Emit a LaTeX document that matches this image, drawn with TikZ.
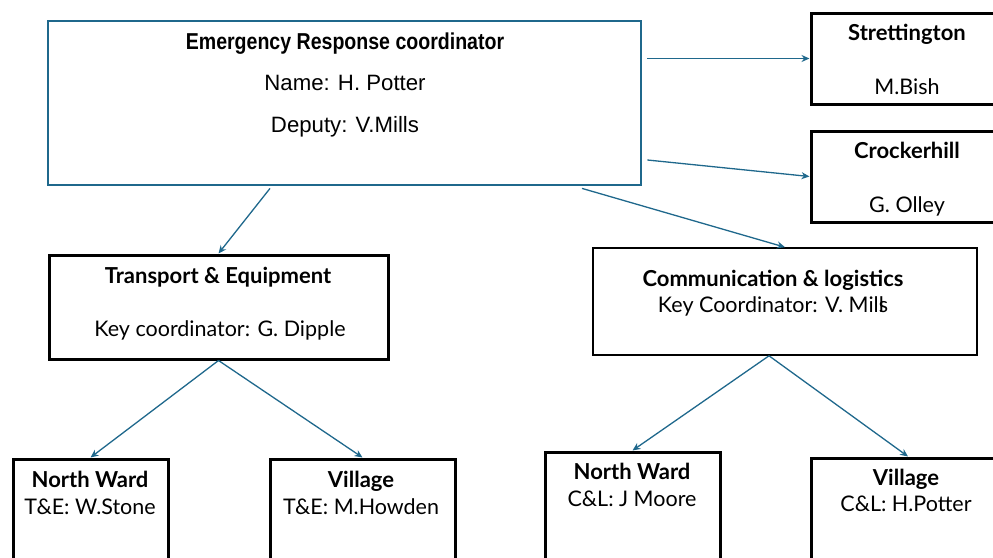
\documentclass[tikz,border=0pt]{standalone}
\usepackage{fontspec}
\setmainfont{Lato}
\newfontfamily\ercfont{Liberation Sans}
\newfontfamily\ercnarrow[FakeStretch=0.85]{Liberation Sans}
\usetikzlibrary{arrows.meta,calc}
\definecolor{ercblue}{RGB}{31,104,140}
\tikzset{
  box/.style={draw=black,line width=3pt,minimum width=#1},
  ercbox/.style={draw=ercblue,line width=2.8pt},
  link/.style={draw=ercblue,line width=1.3pt,-{Stealth[length=8pt,width=7pt]}},
  hd/.style={anchor=mid,font=\fontsize{22}{24}\selectfont\bfseries},
  tx/.style={anchor=mid,font=\fontsize{21.5}{24}\selectfont},
  ehd/.style={anchor=mid,font=\ercnarrow\fontsize{23}{25}\selectfont\bfseries},
  etx/.style={anchor=mid,font=\ercfont\fontsize{22.2}{24}\selectfont}
}
\begin{document}
\begin{tikzpicture}[x=1pt,y=-1pt,inner sep=0pt]
      \clip (0,0) rectangle (993,557);
      \node[ercbox,minimum width=593pt,minimum height=164pt] (erc) at (344.5,103) {};
      \node[ehd] (ercT) at (345,47) {Emergency Response coordinator};
      \node[etx] (ercN) at (345,88) {Name: H. Potter};
      \node[etx] (ercD) at (345,130) {Deputy: V.Mills};
      \node[box=194pt,minimum height=91pt] (str) at (908,58.5) {};
      \node[hd] (strT) at (907,38) {Strettington};
      \node[tx] (strN) at (907,92) {M.Bish};
      \node[box=194pt,minimum height=91pt] (cro) at (908,176.5) {};
      \node[hd] (croT) at (907,156) {Crockerhill};
      \node[tx] (croN) at (907,210) {G. Olley};
      \node[box=339pt,minimum height=104pt] (te) at (218.5,307) {};
      \node[hd] (teT) at (218,281) {Transport \& Equipment};
      \node[tx] (teN) at (220,334) {Key coordinator: G. Dipple};
      \node[box=384pt,minimum height=107pt,line width=1.6pt] (cl) at (785,301.5) {};
      \node[hd] (clT) at (773,284) {Communication \& logistics};
      \node[tx] (clN) at (773,310) {Key Coordinator: V. Mil\rlap{l}s};
      \node[box=155pt,minimum height=121pt] (nwte) at (90.5,519.5) {};
      \node[hd] (nwteT) at (90,485) {North Ward};
      \node[tx] (nwteN) at (90,512) {T\&E: W.Stone};
      \node[box=185pt,minimum height=121pt] (vte) at (362.5,519.5) {};
      \node[hd] (vteT) at (361,485) {Village};
      \node[tx] (vteN) at (361,512) {T\&E: M.Howden};
      \node[box=175pt,minimum height=128pt] (nwcl) at (632.5,516) {};
      \node[hd] (nwclT) at (632,477) {North Ward};
      \node[tx] (nwclN) at (632,504) {C\&L: J Moore};
      \node[box=194pt,minimum height=122pt] (vcl) at (908,519) {};
      \node[hd] (vclT) at (906,483) {Village};
      \node[tx] (vclN) at (906,509) {C\&L: H.Potter};
      \draw[link] ($(erc.east |- str.west)+(5,0)$) -- (str.west);
      \draw[link] ($(erc.east)+(5,57)$) -- (cro.west);
      \draw[link] ($(erc.south)+(237.5,2)$) -- (cl.north);
      \draw[link] ($(erc.south)+(-74.5,2)$) -- (te.north);
      \draw[link] (te.south) -- (nwte.north);
      \draw[link] (te.south) -- (vte.north);
      \draw[link] ($(cl.south)+(-16,0)$) -- (nwcl.north);
      \draw[link] ($(cl.south)+(-16,0)$) -- (vcl.north);
    \end{tikzpicture}
\end{document}
